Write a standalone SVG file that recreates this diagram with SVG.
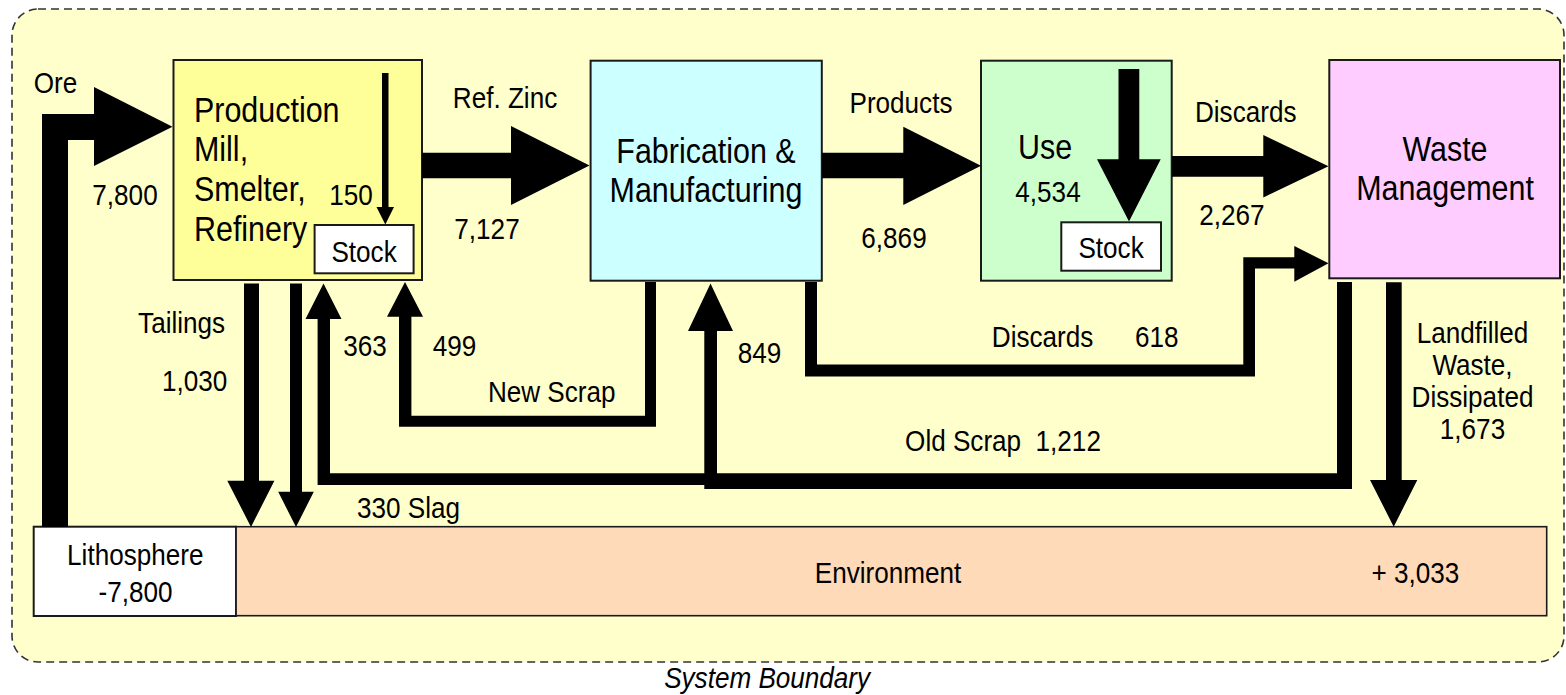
<svg xmlns="http://www.w3.org/2000/svg" width="1566" height="695" viewBox="0 0 1566 695">
  <style>
    text{font-family:"Liberation Sans",Arial,Helvetica,sans-serif;font-size:30px;fill:#000;text-anchor:middle;transform-box:fill-box;transform-origin:center;transform:scaleX(.87)}
    .n{font-size:35px}
    .l{text-anchor:start;transform-origin:left center}
    .it{font-style:italic}
    .pre{white-space:pre}
    .box{stroke:#1a1a1a;stroke-width:2}
    .flow{fill:#000;stroke:none}
  </style>

  <!-- system boundary -->
  <g id="boundary">
    <rect x="12" y="9" width="1552" height="653" rx="26" ry="26" fill="#FFFFCC" stroke="#333" stroke-width="1.6" stroke-dasharray="8 5"/>
    <text class="it" x="767" y="688">System Boundary</text>
  </g>

  <g id="production">
    <rect class="box" x="173.5" y="60" width="248.5" height="220" fill="#FFFF99"/>
    <text class="n l" x="194" y="121.7">Production</text>
    <text class="n l" x="194" y="160.7">Mill,</text>
    <text class="n l" x="194" y="201">Smelter,</text>
    <text class="n l" x="194" y="240.7">Refinery</text>
  </g>
  <g id="production-stock">
    <rect class="box" x="314.6" y="225" width="99" height="48.3" fill="#fff"/>
    <text x="364" y="261.7">Stock</text>
  </g>

  <g id="fabrication">
    <rect class="box" x="590.6" y="60.7" width="231.2" height="220" fill="#CCFFFF"/>
    <text class="n" x="706" y="162.7">Fabrication &amp;</text>
    <text class="n" x="706" y="201.7">Manufacturing</text>
  </g>

  <g id="use">
    <rect class="box" x="981" y="60.7" width="190.7" height="220" fill="#CCFFCC"/>
    <text class="n" x="1045" y="159.3">Use</text>
    <text x="1048" y="201.7">4,534</text>
  </g>
  <g id="use-stock">
    <rect class="box" x="1061.3" y="222.3" width="99.7" height="48.4" fill="#fff"/>
    <text x="1111" y="258.3">Stock</text>
  </g>

  <g id="waste">
    <rect class="box" x="1329.3" y="60" width="230.7" height="218.3" fill="#FFCCFF"/>
    <text class="n" x="1445" y="160.7">Waste</text>
    <text class="n" x="1445" y="200">Management</text>
  </g>

  <g id="lithosphere">
    <rect class="box" x="33.7" y="526.7" width="202.4" height="89.3" fill="#fff"/>
    <text x="135.3" y="565">Lithosphere</text>
    <text x="135.5" y="602.3">-7,800</text>
  </g>

  <g id="environment">
    <rect x="236.1" y="526.7" width="1310.6" height="89" fill="#FFDAB9" stroke="#1a1a1a" stroke-width="1.6"/>
    <text x="888" y="583.3">Environment</text>
    <text x="1415.5" y="583.3">+ 3,033</text>
  </g>

  <!-- flows, drawn as filled block arrows -->
  <g id="connectors">
    <path class="flow" d="M42,527 V114 H94 V87 L172.5,126.7 L94,166 V140 H68 V527 Z"/>
    <path class="flow" d="M382,73 H388.5 V207 H394 L385.3,224.5 L376.5,207 H382 Z"/>
    <path class="flow" d="M422,152.7 H511 V126 L589.5,165.5 L511,205 V178.3 H422 Z"/>
    <path class="flow" d="M822,152.7 H903.3 V126.7 L981,165.8 L903.3,205 V178.3 H822 Z"/>
    <path class="flow" d="M1118.5,69 H1139.3 V159.3 H1160.7 L1129,221.5 L1097,159.3 H1118.5 Z"/>
    <path class="flow" d="M1172,156 H1263.3 V135 L1328.5,166.3 L1263.3,197.5 V176.7 H1172 Z"/>
    <path class="flow" d="M244,283.5 H259 V480.7 H274.4 L251,527 L227.3,480.7 H244 Z"/>
    <path class="flow" d="M290,283.5 H302 V491.7 H313.8 L296,527 L278.2,491.7 H290 Z"/>
    <path class="flow" d="M645,282 V415.7 H411.4 V316.7 H423 L405,282 L387,316.7 H399 V426.7 H656 V282 Z"/>
    <path class="flow" d="M1337,282 V473.3 H717 V331 H733 L710.5,283.5 L688,331 H704.3 V489 H1352 V282 Z"/>
    <path class="flow" d="M705,473.3 H330 V319 H341.5 L323.5,283.5 L305.5,319 H317.6 V485 H705 Z"/>
    <path class="flow" d="M805,282 V376.5 H1255 V268.5 H1294.3 V281.7 L1328.5,263.3 L1294.3,246 V257.3 H1243.3 V364.5 H817 V282 Z"/>
    <path class="flow" d="M1386,282.3 H1401.7 V480 H1417.3 L1393.7,526.7 L1370,480 H1386 Z"/>
  </g>

  <g id="flow-labels">
    <text x="55.5" y="93.3">Ore</text>
    <text x="125" y="205">7,800</text>
    <text x="351" y="205">150</text>
    <text x="505" y="107.7">Ref. Zinc</text>
    <text x="487" y="239.3">7,127</text>
    <text x="901" y="112.7">Products</text>
    <text x="894" y="248.3">6,869</text>
    <text x="1245.7" y="121.7">Discards</text>
    <text x="1232" y="225">2,267</text>
    <text x="181.6" y="333.3">Tailings</text>
    <text x="194.6" y="390.7">1,030</text>
    <text x="365" y="356">363</text>
    <text x="454.5" y="356">499</text>
    <text x="551.7" y="401.7">New Scrap</text>
    <text x="759.5" y="363.3">849</text>
    <text x="1042.6" y="347.3">Discards</text>
    <text x="1156.7" y="346.7">618</text>
    <text class="pre" x="1003" y="451">Old Scrap  1,212</text>
    <text x="1472.5" y="342.7">Landfilled</text>
    <text x="1472.5" y="375">Waste,</text>
    <text x="1472.5" y="406.7">Dissipated</text>
    <text x="1472.5" y="439.3">1,673</text>
    <text x="408.5" y="518.3">330 Slag</text>
  </g>
</svg>
